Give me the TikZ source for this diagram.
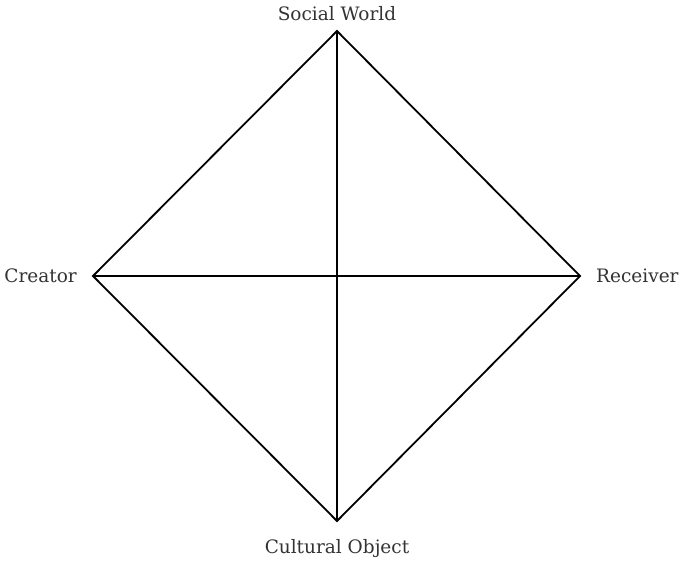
\documentclass[tikz,border=0pt]{standalone}
\usepackage{fontspec}
\setmainfont{DejaVu Serif}
\usetikzlibrary{positioning}
\tikzset{
  corner/.style={font=\fontsize{18.5}{20}\selectfont,text=black!80,inner sep=0pt},
  edge/.style={line width=1.8pt,line join=miter}
}

\begin{document}
\begin{tikzpicture}[x=1pt,y=1pt]
  \useasboundingbox (0,0) rectangle (679,563);
  % corners of the square
  \coordinate (social) at (337,532);
  \coordinate (creator) at (93,287);
  \coordinate (receiver) at (580,287);
  \coordinate (object) at (337,42);
  \node[corner,anchor=base] (socialtxt) at (337,542) {Social World};
  \node[corner,anchor=east] (creatortxt) at (77,287) {Creator};
  \node[corner,anchor=west] (receivertxt) at (596,287) {Receiver};
  \node[corner,anchor=base] (objecttxt) at (337,10) {Cultural Object};
  % outline and diagonals
  \draw[edge] (social) -- (receiver) -- (object) -- (creator) -- cycle;
  \draw[edge] (social) -- (object);
  \draw[edge] (creator) -- (receiver);
\end{tikzpicture}
\end{document}
